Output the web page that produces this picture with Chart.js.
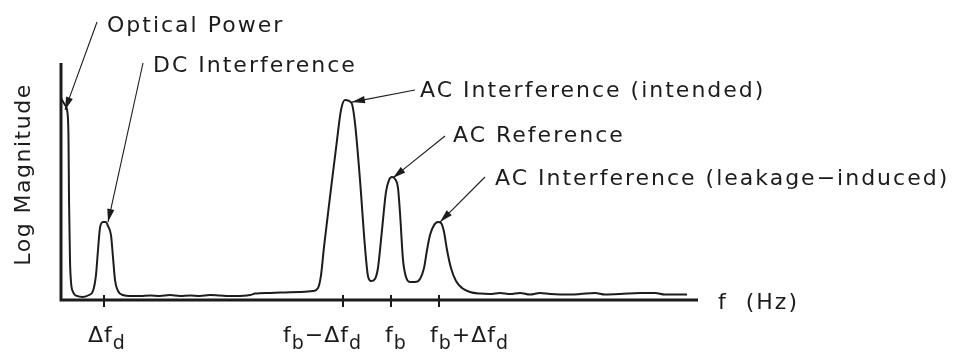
<!DOCTYPE html>
<html>
<head>
<meta charset="utf-8">
<script src="https://cdn.jsdelivr.net/npm/chart.js@4/dist/chart.umd.min.js"></script>
<style>
html,body{margin:0;padding:0;background:#fff;}
#wrap{width:964px;height:353px;}
</style>
</head>
<body>
<div id="wrap"><canvas id="c" width="964" height="353"></canvas></div>
<script>
// ---- DATA (frequency in % of axis span, log magnitude in arbitrary units 0-100) ----
const freq = [0,0.16,0.63,1.02,1.18,1.26,1.41,1.57,1.88,2.51,3.45,4.40,5.02,5.49,5.81,6.12,6.59,7.06,7.38,7.85,8.16,8.48,8.95,9.73,
  10.83,12.40,13.97,15.54,17.11,18.68,20.25,21.82,23.39,24.96,27.32,29.67,30.46,32.81,35.16,37.52,39.56,40.35,40.82,41.29,42.23,43.33,
  43.96,44.58,45.21,45.68,46.15,46.94,47.72,48.19,48.67,49.29,49.76,50.39,51.02,51.49,51.96,52.43,52.90,53.22,53.69,54.16,54.79,55.57,
  56.36,56.99,57.46,57.93,58.56,59.18,59.66,60.13,60.60,61.22,62.01,62.95,64.21,65.78,67.35,68.92,70.49,72.06,73.63,75.20,76.77,78.34,
  79.91,81.48,83.83,85.40,87.76,90.89,93.25,94.82,97.17,98.27];
const logMag = [85.2,84.4,82.3,78.9,67.5,42.2,16.9,7.6,3.4,1.7,1.3,2.1,3.8,10.5,21.1,30.4,32.9,32.9,31.2,27.4,18.1,8.4,3.8,2.1,
  1.7,1.7,1.9,1.7,2.1,1.7,1.9,1.7,2.1,1.9,1.7,2.1,2.7,3.0,3.2,3.4,3.8,5.1,10.5,22.4,43.5,67.5,
  80.2,84.4,84.0,82.7,74.7,50.6,22.4,10.1,8.0,8.9,13.5,29.5,45.6,50.6,51.9,51.1,47.3,36.7,16.9,9.7,7.6,7.6,
  8.9,13.5,21.1,27.4,31.6,32.9,32.5,28.7,21.1,13.5,8.0,5.1,3.4,2.7,2.5,3.0,2.5,3.0,2.3,3.0,2.5,2.3,
  2.3,2.5,3.0,2.3,2.5,3.0,3.0,2.3,2.3,2.3];

const tickValues = [6.75, 44.27, 51.81, 59.34];
const tickLabels = ['Δf_d', 'f_b−Δf_d', 'f_b', 'f_b+Δf_d'];
const xTitle = 'f  (Hz)';
const yTitle = 'Log Magnitude';

const annTexts = ['Optical Power', 'DC Interference', 'AC Interference (intended)', 'AC Reference', 'AC Interference (leakage−induced)'];
const annTipFreq = [0.63, 7.38, 45.68, 52.10, 59.50];
const annTipMag  = [80.2, 32.9, 83.5, 51.5, 32.9];

// ---- STYLE / LAYOUT ----
const FONT = '22px "DejaVu Sans"';
const INK = '#1c1c1c';
const annLayout = [
  {tx:107, ty:32, ax:97,  ay:22},
  {tx:153, ty:72, ax:143, ay:63},
  {tx:420, ty:97, ax:415, ay:90},
  {tx:453, ty:142, ax:445, ay:136},
  {tx:495, ty:185, ax:485, ay:177}
];
const tickLabelDx = [-16, -60, -6, -9];

function drawRich(ctx, str, x, y) {
  // '_' marks the next char as subscript
  let cx = x;
  for (let i = 0; i < str.length; i++) {
    let ch = str[i], sub = false;
    if (ch === '_') { sub = true; ch = str[++i]; }
    ctx.font = sub ? '19px "DejaVu Sans"' : FONT;
    ctx.fillText(ch, cx, sub ? y + 7 : y);
    cx += ctx.measureText(ch).width;
  }
}

function arrow(ctx, x0, y0, x1, y1) {
  ctx.beginPath();
  ctx.moveTo(x0, y0); ctx.lineTo(x1, y1);
  ctx.lineWidth = 1.1; ctx.strokeStyle = INK; ctx.stroke();
  const a = Math.atan2(y1 - y0, x1 - x0), L = 13, W = 3.6;
  ctx.beginPath();
  ctx.moveTo(x1, y1);
  ctx.lineTo(x1 - L*Math.cos(a) + W*Math.sin(a), y1 - L*Math.sin(a) - W*Math.cos(a));
  ctx.lineTo(x1 - L*Math.cos(a) - W*Math.sin(a), y1 - L*Math.sin(a) + W*Math.cos(a));
  ctx.closePath(); ctx.fillStyle = INK; ctx.fill();
}

const decor = {
  id: 'decor',
  afterDatasetsDraw(chart) {
    const ctx = chart.ctx, ca = chart.chartArea;
    const xs = chart.scales.x, ys = chart.scales.y;
    ctx.save();
    // axes
    ctx.strokeStyle = INK; ctx.lineWidth = 3; ctx.lineCap = 'butt';
    ctx.beginPath();
    ctx.moveTo(ca.left, ca.top); ctx.lineTo(ca.left, ca.bottom);
    ctx.lineTo(ca.right, ca.bottom);
    ctx.stroke();
    // ticks
    ctx.lineWidth = 2;
    ctx.letterSpacing = '1px';
    tickValues.forEach((v, i) => {
      const px = Math.round(xs.getPixelForValue(v));
      ctx.beginPath(); ctx.moveTo(px, ca.bottom - 5); ctx.lineTo(px, ca.bottom + 7); ctx.stroke();
      ctx.fillStyle = INK; ctx.textAlign = 'left'; ctx.textBaseline = 'alphabetic';
      drawRich(ctx, tickLabels[i], px + tickLabelDx[i], ca.bottom + 42);
    });
    // axis titles
    ctx.font = FONT; ctx.fillStyle = INK; ctx.textAlign = 'left';
    ctx.letterSpacing = '2px';
    ctx.fillText(xTitle, ca.right + 20, ca.bottom + 9);
    ctx.save();
    ctx.translate(30, (ca.top + ca.bottom) / 2 - 7);
    ctx.rotate(-Math.PI / 2);
    ctx.textAlign = 'center';
    ctx.letterSpacing = '1.5px';
    ctx.fillText(yTitle, 0, 0);
    ctx.restore();
    // annotations
    ctx.letterSpacing = '2px';
    annTexts.forEach((t, i) => {
      const L = annLayout[i];
      ctx.font = FONT; ctx.fillStyle = INK; ctx.textAlign = 'left';
      ctx.fillText(t, L.tx, L.ty);
      arrow(ctx, L.ax, L.ay, xs.getPixelForValue(annTipFreq[i]), ys.getPixelForValue(annTipMag[i]));
    });
    ctx.restore();
  }
};

new Chart(document.getElementById('c'), {
  type: 'line',
  data: {
    datasets: [{
      data: freq.map((f, i) => ({x: f, y: logMag[i]})),
      borderColor: INK, borderWidth: 2, pointRadius: 0,
      cubicInterpolationMode: 'monotone', fill: false, clip: 4
    }]
  },
  options: {
    responsive: false, animation: false, devicePixelRatio: 1,
    layout: {padding: {left: 61, top: 63, right: 266, bottom: 53}},
    plugins: {legend: {display: false}, tooltip: {enabled: false}, title: {display: false}},
    scales: {
      x: {type: 'linear', min: 0, max: 100, display: false},
      y: {type: 'linear', min: 0, max: 100, display: false}
    }
  },
  plugins: [decor]
});
</script>
</body>
</html>
